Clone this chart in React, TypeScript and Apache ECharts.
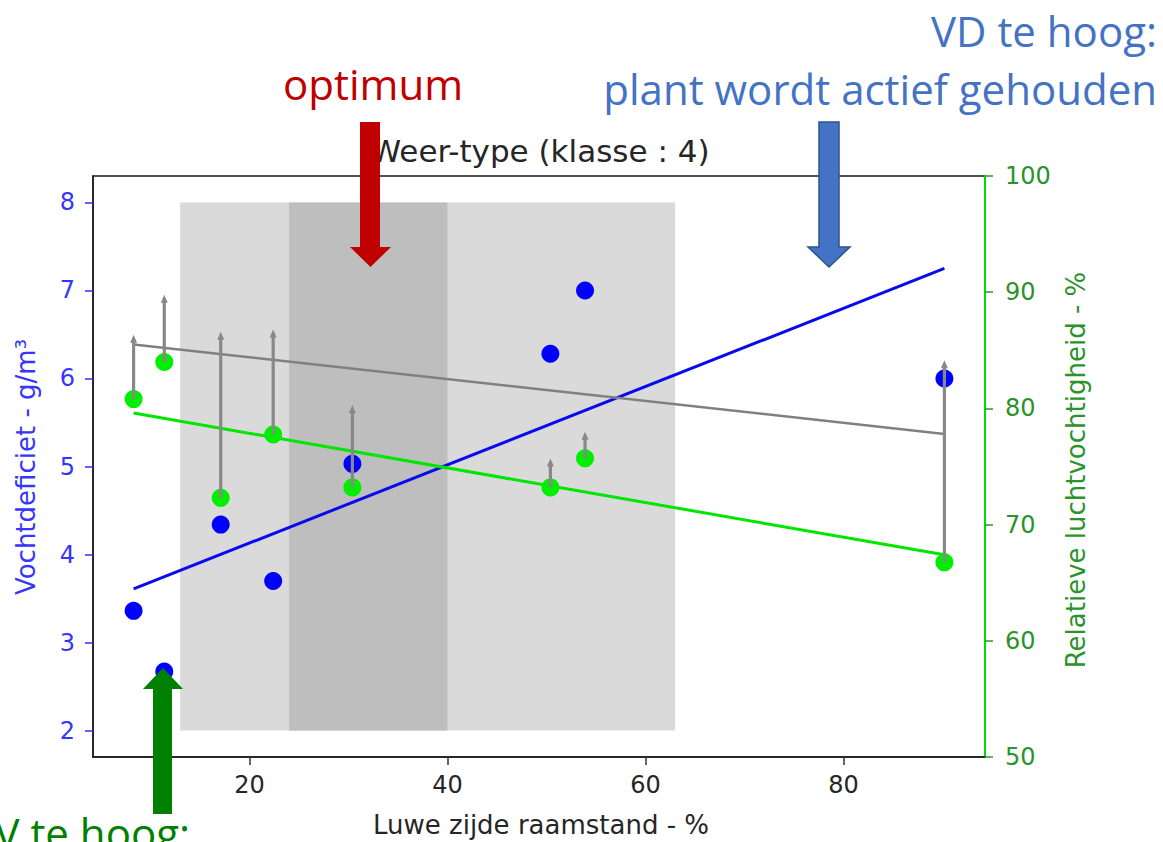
import React, { useEffect, useRef } from "react";
import * as echarts from "echarts";

// Raamstand aan de luwe zijde (%) per meetmoment
const raamstand = [8.3, 11.4, 17.1, 22.4, 30.4, 50.4, 53.9, 90.2];
// Vochtdeficiet (g/m³), linker as
const vochtdeficiet = [3.36, 2.67, 4.34, 3.7, 5.03, 6.28, 7.0, 6.0];
// Relatieve luchtvochtigheid (%), rechter as
const rvGemeten = [80.8, 84.0, 72.3, 77.75, 73.2, 73.2, 75.7, 66.75];
// Bovenkant van de grijze pijlen (%), rechter as
const rvPijlTop = [86.25, 89.7, 86.5, 86.7, 80.2, 75.6, 77.9, 84.05];

// Trendlijnen: begin- en eindpunt
const trendX = [8.3, 90.2];
const vdTrend = [3.61, 7.25];
const rvTrend = [79.6, 67.4];
const rvTopTrend = [85.5, 77.8];

// Achtergrondbanden (raamstand %) en hun hoogte op de VD-as
const bandRanges = [
  [13, 63],
  [24, 40],
];
const bandColors = ["#dadada", "#bebebe"];
const bandVd = [2, 8];

// Aslabels
const xTicks = [20, 40, 60, 80];
const vdTicks = [2, 3, 4, 5, 6, 7, 8];

const AXIS_FONT = "DejaVu Sans";
const NOTE_FONT = "Open Sans";

export default function App() {
  const ref = useRef<HTMLDivElement>(null);

  useEffect(() => {
    if (!ref.current) return;
    const chart = echarts.init(ref.current, undefined, { renderer: "svg" });

    const option: any = {
      animation: false,
      backgroundColor: "#ffffff",
      grid: {
        left: 93,
        top: 176,
        width: 892,
        height: 581,
        show: true,
        borderColor: "#1a1a1a",
        borderWidth: 1.5,
        backgroundColor: "transparent",
      },
      xAxis: {
        type: "value",
        min: 4.2,
        max: 94.3,
        axisLine: { show: true, onZero: false, lineStyle: { color: "#1a1a1a", width: 1.5 } },
        axisTick: { show: true, length: 8, lineStyle: { color: "#333", width: 1.5 }, customValues: xTicks },
        axisLabel: {
          customValues: xTicks,
          color: "#262626",
          fontSize: 24,
          fontFamily: AXIS_FONT,
          margin: 16,
        },
        splitLine: { show: false },
      },
      yAxis: [
        {
          type: "value",
          position: "left",
          min: 1.7,
          max: 8.3,
          axisLine: { show: true, onZero: false, lineStyle: { color: "#1a1a2e", width: 1.5 } },
          axisTick: { show: true, length: 8, lineStyle: { color: "#3030ff", width: 1.5 }, customValues: vdTicks },
          axisLabel: {
            customValues: vdTicks,
            color: "#3535ff",
            fontSize: 24,
            fontFamily: AXIS_FONT,
            margin: 18,
          },
          splitLine: { show: false },
        },
        {
          type: "value",
          position: "right",
          min: 50,
          max: 100,
          interval: 10,
          axisLine: { show: true, onZero: false, lineStyle: { color: "#00dd00", width: 2 } },
          axisTick: { show: true, length: 8, lineStyle: { color: "#2a9a2a", width: 1.5 } },
          axisLabel: {
            color: "#2a932a",
            fontSize: 24,
            fontFamily: AXIS_FONT,
            margin: 20,
          },
          splitLine: { show: false },
        },
      ],
      series: [
        {
          type: "custom",
          name: "banden",
          xAxisIndex: 0,
          yAxisIndex: 0,
          z: 1,
          silent: true,
          data: bandRanges.map((r) => [r[0], r[1]]),
          encode: { x: [0, 1] },
          renderItem: (params: any, api: any) => {
            const p1 = api.coord([api.value(0), bandVd[1]]);
            const p2 = api.coord([api.value(1), bandVd[0]]);
            return {
              type: "rect",
              shape: { x: p1[0], y: p1[1], width: p2[0] - p1[0], height: p2[1] - p1[1] },
              style: { fill: bandColors[params.dataIndex] },
            };
          },
        },
        {
          type: "line",
          name: "trend VD",
          yAxisIndex: 0,
          z: 3,
          symbol: "none",
          silent: true,
          data: trendX.map((x, i) => [x, vdTrend[i]]),
          lineStyle: { color: "#0a0aee", width: 3 },
        },
        {
          type: "line",
          name: "trend RV boven",
          yAxisIndex: 1,
          z: 3,
          symbol: "none",
          silent: true,
          data: trendX.map((x, i) => [x, rvTopTrend[i]]),
          lineStyle: { color: "#808080", width: 2.5 },
        },
        {
          type: "line",
          name: "trend RV",
          yAxisIndex: 1,
          z: 3,
          symbol: "none",
          silent: true,
          data: trendX.map((x, i) => [x, rvTrend[i]]),
          lineStyle: { color: "#00e600", width: 3 },
        },
        {
          type: "scatter",
          name: "Vochtdeficiet",
          yAxisIndex: 0,
          z: 4,
          symbolSize: 18,
          data: raamstand.map((x, i) => [x, vochtdeficiet[i]]),
          itemStyle: { color: "#0000ff", opacity: 1 },
        },
        {
          type: "scatter",
          name: "RV",
          yAxisIndex: 1,
          z: 4,
          symbolSize: 18,
          data: raamstand.map((x, i) => [x, rvGemeten[i]]),
          itemStyle: { color: "#00ee00", opacity: 1 },
        },
        {
          type: "custom",
          name: "pijlen",
          yAxisIndex: 1,
          z: 5,
          silent: true,
          data: raamstand.map((x, i) => [x, rvGemeten[i], rvPijlTop[i]]),
          encode: { x: 0, y: [1, 2] },
          renderItem: (params: any, api: any) => {
            const a = api.coord([api.value(0), api.value(1)]);
            const b = api.coord([api.value(0), api.value(2)]);
            const c = "#888888";
            return {
              type: "group",
              children: [
                {
                  type: "line",
                  shape: { x1: a[0], y1: a[1], x2: b[0], y2: b[1] + 4 },
                  style: { stroke: c, lineWidth: 3.2 },
                },
                {
                  type: "polygon",
                  shape: {
                    points: [
                      [b[0] - 3.5, b[1] + 7],
                      [b[0] + 3.5, b[1] + 7],
                      [b[0], b[1] - 1],
                    ],
                  },
                  style: { fill: c },
                },
              ],
            };
          },
        },
      ],
      graphic: [
        {
          type: "text",
          z: 100,
          x: 540,
          y: 151,
          style: {
            text: "Weer-type (klasse : 4)",
            fontFamily: AXIS_FONT,
            fontSize: 31,
            fill: "#262626",
            align: "center",
            verticalAlign: "middle",
          },
        },
        {
          type: "text",
          z: 100,
          x: 541,
          y: 825,
          style: {
            text: "Luwe zijde raamstand - %",
            fontFamily: AXIS_FONT,
            fontSize: 26,
            fill: "#262626",
            align: "center",
            verticalAlign: "middle",
          },
        },
        {
          type: "text",
          z: 100,
          x: 26,
          y: 467,
          rotation: Math.PI / 2,
          style: {
            text: "Vochtdeficiet - g/m³",
            fontFamily: AXIS_FONT,
            fontSize: 26,
            fill: "#3535ff",
            align: "center",
            verticalAlign: "middle",
          },
        },
        {
          type: "text",
          z: 100,
          x: 1076,
          y: 470,
          rotation: Math.PI / 2,
          style: {
            text: "Relatieve luchtvochtigheid - %",
            fontFamily: AXIS_FONT,
            fontSize: 26,
            fill: "#2a932a",
            align: "center",
            verticalAlign: "middle",
          },
        },
        {
          type: "text",
          z: 100,
          x: 1157,
          y: 30,
          style: {
            text: "VD te hoog:",
            fontFamily: NOTE_FONT,
            fontSize: 42,
            fill: "#4472c4",
            align: "right",
            verticalAlign: "middle",
          },
        },
        {
          type: "text",
          z: 100,
          x: 1157,
          y: 88,
          style: {
            text: "plant wordt actief gehouden",
            fontFamily: NOTE_FONT,
            fontSize: 42,
            fill: "#4472c4",
            align: "right",
            verticalAlign: "middle",
          },
        },
        {
          type: "text",
          z: 100,
          x: 373,
          y: 83,
          style: {
            text: "optimum",
            fontFamily: NOTE_FONT,
            fontSize: 42,
            fill: "#c00000",
            align: "center",
            verticalAlign: "middle",
          },
        },
        {
          type: "text",
          z: 100,
          x: 190,
          y: 832,
          style: {
            text: "RV te hoog:",
            fontFamily: NOTE_FONT,
            fontSize: 42,
            fill: "#008000",
            align: "right",
            verticalAlign: "middle",
          },
        },
        {
          type: "polygon",
          z: 110,
          shape: {
            points: [
              [360, 122],
              [380, 122],
              [380, 247],
              [391, 247],
              [370.5, 267],
              [350, 247],
              [360, 247],
            ],
          },
          style: { fill: "#c00000" },
        },
        {
          type: "polygon",
          z: 110,
          shape: {
            points: [
              [819, 122],
              [839, 122],
              [839, 247],
              [850, 247],
              [829, 267],
              [808, 247],
              [819, 247],
            ],
          },
          style: { fill: "#4472c4", stroke: "#2f528f", lineWidth: 1.5 },
        },
        {
          type: "polygon",
          z: 110,
          shape: {
            points: [
              [153, 814],
              [172, 814],
              [172, 689],
              [183, 689],
              [163, 668],
              [143, 689],
              [153, 689],
            ],
          },
          style: { fill: "#008000" },
        },
      ],
    };

    chart.setOption(option);
    return () => chart.dispose();
  }, []);

  return (
    <div
      ref={ref}
      style={{ position: "fixed", left: 0, top: 0, width: 1163, height: 842, background: "#fff" }}
    />
  );
}
